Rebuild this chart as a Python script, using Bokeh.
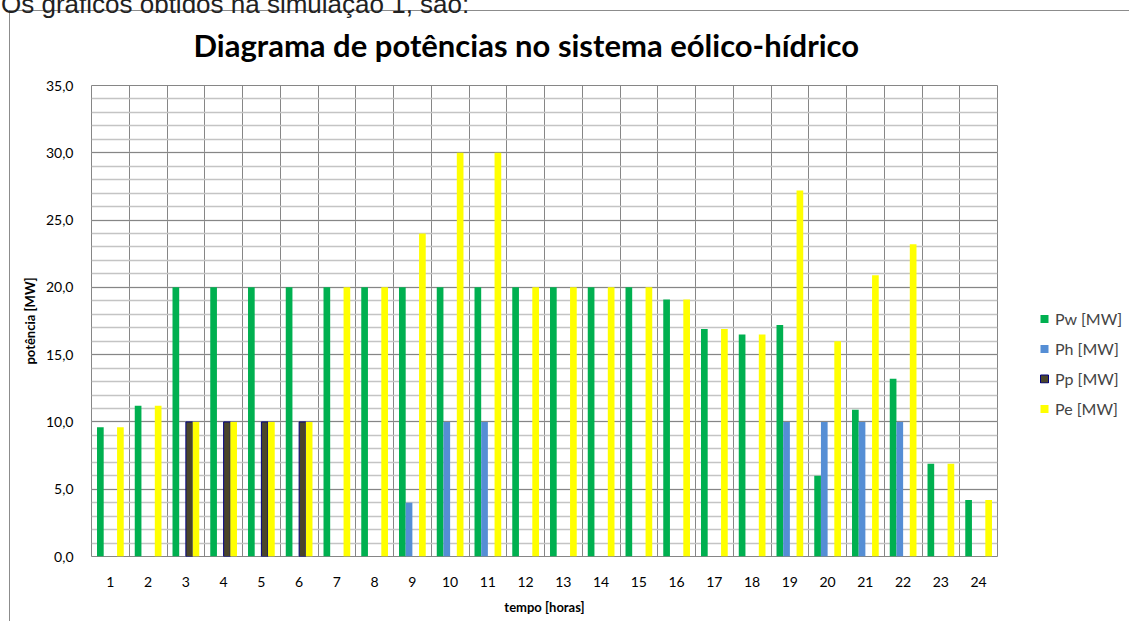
from bokeh.plotting import figure
from bokeh.models import (ColumnDataSource, FixedTicker, CustomJSTickFormatter, Legend,
                          LegendItem, Range1d, InlineStyleSheet)
from bokeh.transform import dodge
from bokeh.embed import file_html
from bokeh.resources import INLINE

hours = list(range(1, 25))
pw = [9.6, 11.2, 20, 20, 20, 20, 20, 20, 20, 20, 20, 20, 20, 20, 20, 19.1, 16.9, 16.5, 17.2, 6.0, 10.9, 13.2, 6.9, 4.2]
ph = [0, 0, 0, 0, 0, 0, 0, 0, 4.0, 10, 10, 0, 0, 0, 0, 0, 0, 0, 10, 10, 10, 10, 0, 0]
pp = [0, 0, 10, 10, 10, 10, 0, 0, 0, 0, 0, 0, 0, 0, 0, 0, 0, 0, 0, 0, 0, 0, 0, 0]
pe = [9.6, 11.2, 10, 10, 10, 10, 20, 20, 24.0, 30, 30, 20, 20, 20, 20, 19.1, 16.9, 16.5, 27.2, 16.0, 20.9, 23.2, 6.9, 4.2]
series_names = ["Pw [MW]", "Ph [MW]", "Pp [MW]", "Pe [MW]"]
y_ticks = [0, 5, 10, 15, 20, 25, 30, 35]
doc_text = "Os gráficos obtidos na simulação 1, são:"

FONT = "Lato"
p = figure(frame_width=906, frame_height=471, output_backend="svg", toolbar_location=None,
           x_range=Range1d(0.5, 24.5), y_range=Range1d(0, 35),
           min_border_left=91, min_border_right=132, min_border_top=85, min_border_bottom=65)

p.stylesheets = [InlineStyleSheet(css="""
:host { position: relative; }
:host::after { content: ""; position: absolute; left: 9px; top: 10px; right: 0; bottom: 0;
  border-left: 1px solid #8C8C8C; border-top: 1px solid #8C8C8C; pointer-events: none; }
:host::before { content: "%s"; position: absolute; left: 1px; top: -14px; z-index: 5;
  font-family: 'Liberation Sans'; font-size: 26px; color: #222222; white-space: nowrap;
  pointer-events: none; }
""" % doc_text)]

p.title.text = "Diagrama de potências no sistema eólico-hídrico"
p.title.text_font = FONT
p.title.text_font_style = "bold"
p.title.text_font_size = "31px"
p.title.text_color = "black"
p.title.align = "left"
p.title.offset = 102
p.title.standoff = 44

p.outline_line_color = "#868686"
p.background_fill_color = "white"
p.border_fill_color = "white"

bw = 0.177
cols = ["#00B050", "#558ED5", "#4A452A", "#FFFF00"]
lines = [None, None, "#000080", None]
offs = [-1.5 * bw, -0.5 * bw, 0.5 * bw, 1.5 * bw]
items = []
for name, vals, c, lc, off in zip(series_names, [pw, ph, pp, pe], cols, lines, offs):
    xs = [h for h, v in zip(hours, vals) if v > 0]
    ys = [v for v in vals if v > 0]
    src = ColumnDataSource(dict(hour=xs, top=ys))
    r = p.vbar(x=dodge("hour", off, range=p.x_range), top="top", bottom=0, width=bw,
               source=src, fill_color=c, line_color=lc, line_width=1)
    items.append(LegendItem(label=name, renderers=[r]))

# axes
p.yaxis.ticker = FixedTicker(ticks=y_ticks, minor_ticks=list(range(0, 36)))
p.yaxis.formatter = CustomJSTickFormatter(code="return tick.toFixed(1).replace('.', ',');")
p.xaxis.ticker = FixedTicker(ticks=hours)
for ax in [p.xaxis[0], p.yaxis[0]]:
    ax.axis_line_color = None
    ax.major_tick_line_color = None
    ax.minor_tick_line_color = None
    ax.major_tick_out = 0
    ax.major_tick_in = 0
    ax.minor_tick_out = 0
    ax.minor_tick_in = 0
    ax.major_label_text_font = FONT
    ax.major_label_text_font_size = "14px"
    ax.major_label_text_color = "black"
    ax.axis_label_text_font = FONT
    ax.axis_label_text_font_style = "bold"
    ax.axis_label_text_font_size = "13px"
    ax.axis_label_text_color = "black"
p.yaxis.axis_label = "potência [MW]"
p.xaxis.axis_label = "tempo [horas]"
p.yaxis.major_label_standoff = 18
p.yaxis.axis_label_standoff = 5
p.xaxis.major_label_standoff = 20
p.xaxis.axis_label_standoff = 9

# grids
p.ygrid.ticker = FixedTicker(ticks=y_ticks, minor_ticks=list(range(0, 36)))
p.ygrid.grid_line_color = "#868686"
p.ygrid.minor_grid_line_color = "#C4C4C4"
p.ygrid.minor_grid_line_width = 1.3
p.xgrid.ticker = FixedTicker(ticks=[h + 0.5 for h in range(0, 25)])
p.xgrid.grid_line_color = "#868686"

legend = Legend(items=items, location="center_left", glyph_width=10, glyph_height=10,
                label_height=20, label_width=66, spacing=10, padding=0, margin=42,
                label_standoff=6, label_text_font=FONT, label_text_font_size="16px",
                title=" ", title_text_font_size="1px", title_standoff=84,
                border_line_color=None, background_fill_alpha=0)
p.add_layout(legend, "right")

open("out.html", "w").write(file_html(p, INLINE))
